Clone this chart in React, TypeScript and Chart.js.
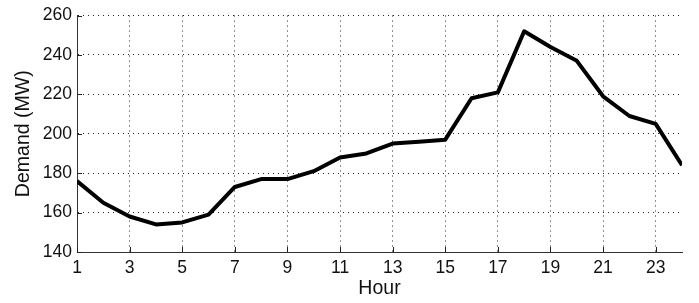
import React, { useEffect, useRef } from "react";
import { Chart, registerables } from "chart.js";

Chart.register(...registerables);

const hours = [1, 2, 3, 4, 5, 6, 7, 8, 9, 10, 11, 12, 13, 14, 15, 16, 17, 18, 19, 20, 21, 22, 23, 24];
const demand = [176, 165, 158, 154, 155, 159, 173, 177, 177, 181, 188, 190, 195, 196, 197, 218, 221, 252, 244, 237, 219, 209, 205, 184];
const xTicks = [1, 3, 5, 7, 9, 11, 13, 15, 17, 19, 21, 23];
const yTicks = [140, 160, 180, 200, 220, 240, 260];

const innerTicks = {
  id: "innerTicks",
  afterDatasetsDraw(chart: any) {
    const { ctx, chartArea, scales } = chart;
    ctx.save();
    ctx.strokeStyle = "#222";
    ctx.lineWidth = 1;
    ctx.beginPath();
    for (const v of xTicks) {
      const x = Math.round(scales.x.getPixelForValue(v)) + 0.5;
      ctx.moveTo(x, chartArea.bottom);
      ctx.lineTo(x, chartArea.bottom - 5);
    }
    for (const v of yTicks) {
      const y = Math.round(scales.y.getPixelForValue(v)) + 0.5;
      ctx.moveTo(chartArea.left, y);
      ctx.lineTo(chartArea.left + 5, y);
    }
    ctx.stroke();
    ctx.restore();
  },
};

export default function App() {
  const ref = useRef<HTMLCanvasElement>(null);
  useEffect(() => {
    const chart = new Chart(ref.current!, {
      type: "line",
      data: {
        datasets: [
          {
            data: hours.map((h, i) => ({ x: h, y: demand[i] })),
            borderColor: "#000",
            borderWidth: 4,
            pointRadius: 0,
            tension: 0,
            borderJoinStyle: "round",
          },
        ],
      },
      options: {
        animation: false,
        responsive: false,
        layout: { padding: { top: 10, right: 17, left: 0, bottom: 0 } },
        plugins: { legend: { display: false }, tooltip: { enabled: false } },
        scales: {
          x: {
            type: "linear",
            min: 1,
            max: 24,
            afterBuildTicks: (s: any) => {
              s.ticks = xTicks.map((v) => ({ value: v }));
            },
            afterFit: (s: any) => {
              s.height = 51;
            },
            ticks: {
              color: "#111",
              font: { family: "Liberation Sans", size: 17.5 },
              padding: 6,
              maxRotation: 0,
              autoSkip: false,
            },
            grid: {
              color: "#222",
              drawTicks: false,
            },
            border: { display: true, color: "#333", width: 1, dash: [1, 4] },
            title: {
              display: true,
              text: "Hour",
              color: "#111",
              font: { family: "Liberation Sans", size: 19.5 },
              padding: { top: 0, bottom: 3 },
            },
          },
          y: {
            type: "linear",
            min: 140,
            max: 260,
            afterBuildTicks: (s: any) => {
              s.ticks = yTicks.map((v) => ({ value: v }));
            },
            afterFit: (s: any) => {
              s.width = 77;
            },
            ticks: {
              color: "#111",
              font: { family: "Liberation Sans", size: 17.5 },
              padding: 5,
            },
            grid: {
              color: "#222",
              drawTicks: false,
            },
            border: { display: true, color: "#333", width: 1, dash: [1, 4] },
            title: {
              display: true,
              text: "Demand (MW)",
              color: "#111",
              font: { family: "Liberation Sans", size: 19.5 },
              padding: { top: 12, bottom: 0 },
            },
          },
        },
      } as any,
      plugins: [innerTicks],
    });
    return () => chart.destroy();
  }, []);
  return (
    <div style={{ position: "fixed", left: 0, top: 0, width: 699, height: 303, background: "#fff" }}>
      <canvas ref={ref} width={699} height={303} style={{ width: 699, height: 303 }} />
    </div>
  );
}
